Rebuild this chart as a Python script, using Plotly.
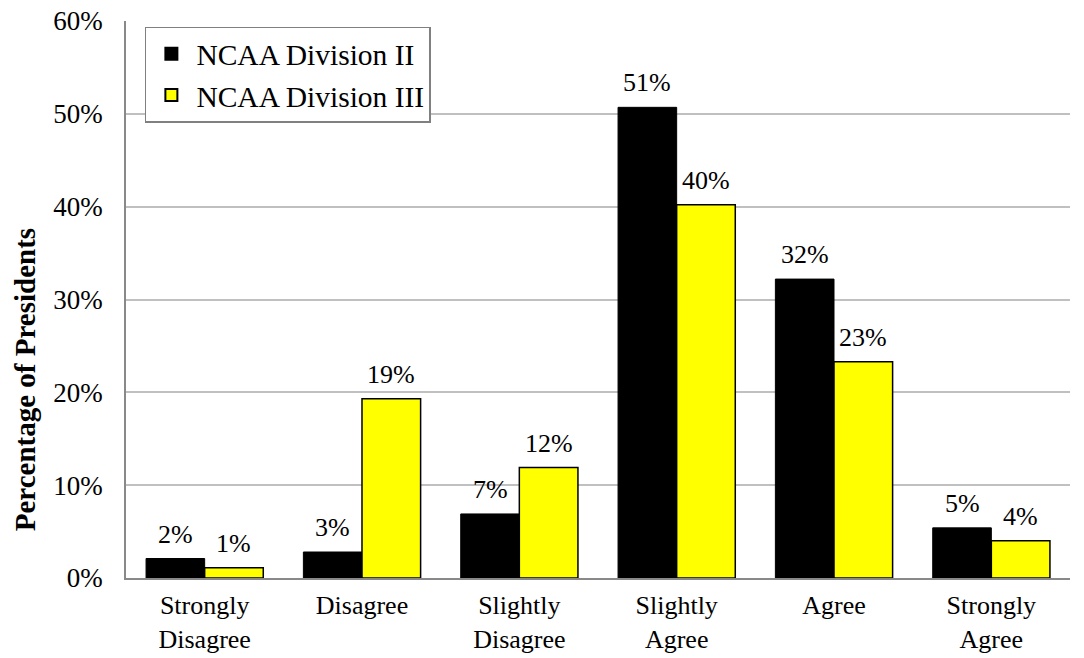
import plotly.graph_objects as go

categories = ["Strongly<br>Disagree", "Disagree", "Slightly<br>Disagree",
              "Slightly<br>Agree", "Agree", "Strongly<br>Agree"]
div2 = [2.1, 2.8, 6.9, 50.7, 32.2, 5.4]
div3 = [1.1, 19.3, 11.9, 40.2, 23.3, 4.0]
y_ticks = [0, 10, 20, 30, 40, 50, 60]
y_tick_labels = ["0%", "10%", "20%", "30%", "40%", "50%", "60%"]

FONT = "Liberation Serif"
INK = "#000000"
BAR_GAP = 0.255
PLOT_W = 1084 - 126 - 14
half_bar_px = PLOT_W / len(categories) * (1 - BAR_GAP) / 4

fig = go.Figure()
fig.add_trace(go.Bar(
    name="NCAA Division II", x=categories, y=div2,
    marker=dict(color="#000000", line=dict(color="#000000", width=1)),
))
fig.add_trace(go.Bar(
    name="NCAA Division III", x=categories, y=div3,
    marker=dict(color="#ffff00", line=dict(color="#000000", width=1.5)),
))

# value labels above each bar
for values, shift in ((div2, -half_bar_px), (div3, half_bar_px)):
    for cat, v in zip(categories, values):
        fig.add_annotation(
            x=cat, y=v, text=f"{v:.0f}%", showarrow=False,
            xshift=shift, yshift=8, yanchor="bottom",
            font=dict(family=FONT, size=26, color=INK),
        )

# vertical axis title, set lower than the plot's middle
fig.add_annotation(
    text="<b>Percentage of Presidents</b>", textangle=-90,
    xref="paper", yref="paper", x=0, y=0.355, xshift=-101,
    xanchor="center", yanchor="middle", showarrow=False,
    font=dict(family=FONT, size=29, color=INK),
)

fig.update_layout(
    width=1084, height=658,
    margin=dict(l=126, r=14, t=21, b=80),
    paper_bgcolor="white", plot_bgcolor="white",
    barmode="group", bargap=BAR_GAP, bargroupgap=0,
    font=dict(family=FONT, size=26, color=INK),
    showlegend=True,
    legend=dict(
        x=0.02, y=0.99, xanchor="left", yanchor="top",
        bgcolor="white", bordercolor="#808080", borderwidth=1.5,
        font=dict(family=FONT, size=29.5, color=INK),
        tracegroupgap=0, itemsizing="constant", itemwidth=40,
    ),
    xaxis=dict(
        showline=True, linecolor="#898989", linewidth=2,
        ticks="", tickfont=dict(family=FONT, size=26, color=INK),
        ticklabelstandoff=3, automargin=False,
        showgrid=False,
    ),
    yaxis=dict(
        range=[0, 60], tickvals=y_ticks, ticktext=y_tick_labels,
        showline=True, linecolor="#898989", linewidth=1.5,
        showgrid=True, gridcolor="#c0c0c0", gridwidth=1.5,
        ticks="", tickfont=dict(family=FONT, size=27, color=INK),
        ticklabelstandoff=16, automargin=False,
        zeroline=False,
    ),
)

fig.write_html("out.html")
